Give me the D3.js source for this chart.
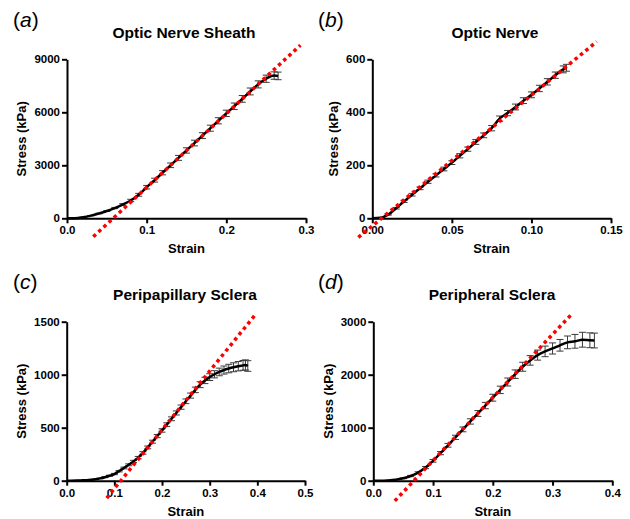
<!DOCTYPE html>
<html><head><meta charset="utf-8">
<script src="https://cdn.jsdelivr.net/npm/d3@7"></script>
<style>body{margin:0;background:#fff}svg{display:block}</style>
</head><body>
<svg id="chart" width="630" height="519"></svg>
<script>
// ---------------- data ----------------
const panelLabels = ["a", "b", "c", "d"];
const panelTitles = ["Optic Nerve Sheath", "Optic Nerve", "Peripapillary Sclera", "Peripheral Sclera"];
const xAxisTitle = "Strain";
const yAxisTitle = "Stress (kPa)";

const xDomains = [[0, 0.3], [0, 0.15], [0, 0.5], [0, 0.4]];
const yDomains = [[0, 9000], [0, 600], [0, 1500], [0, 3000]];
const xTicks = [[0, 0.1, 0.2, 0.3], [0, 0.05, 0.10, 0.15], [0, 0.1, 0.2, 0.3, 0.4, 0.5], [0, 0.1, 0.2, 0.3, 0.4]];
const yTicks = [[0, 3000, 6000, 9000], [0, 200, 400, 600], [0, 500, 1000, 1500], [0, 1000, 2000, 3000]];
const xTickFormats = [".1f", ".2f", ".1f", ".1f"];

// panel (a) Optic Nerve Sheath
const strainA = [0, 0.01, 0.02, 0.03, 0.04, 0.05, 0.06, 0.07, 0.08, 0.09, 0.10, 0.11, 0.12, 0.13, 0.14, 0.15, 0.16, 0.17, 0.18, 0.19, 0.20, 0.21, 0.22, 0.23, 0.24, 0.25, 0.26, 0.265];
const stressA = [0, 5, 60, 150, 270, 410, 580, 780, 1010, 1330, 1760, 2160, 2580, 3000, 3420, 3840, 4260, 4680, 5100, 5520, 5940, 6340, 6760, 7180, 7580, 7900, 8080, 8060];
const errA    = [0, 0, 5, 10, 15, 25, 35, 50, 65, 80, 100, 110, 120, 130, 140, 150, 160, 165, 170, 175, 180, 185, 190, 195, 200, 205, 210, 215];

// panel (b) Optic Nerve
const strainB = [0, 0.005, 0.01, 0.015, 0.02, 0.025, 0.03, 0.035, 0.04, 0.045, 0.05, 0.055, 0.06, 0.065, 0.07, 0.075, 0.08, 0.085, 0.09, 0.095, 0.10, 0.105, 0.11, 0.115, 0.12, 0.122];
const stressB = [0, 2, 14, 38, 64, 89, 113, 138, 162, 186, 210, 236, 261, 288, 313, 340, 376, 397, 420, 444, 466, 490, 515, 540, 562, 568];
const errB    = [0, 1, 2, 3, 4, 5, 5, 6, 6, 7, 7, 8, 8, 9, 9, 10, 10, 10, 11, 11, 11, 12, 12, 12, 13, 13];

// panel (c) Peripapillary Sclera
const strainC = [0, 0.01, 0.02, 0.03, 0.04, 0.05, 0.06, 0.07, 0.08, 0.09, 0.10, 0.11, 0.12, 0.13, 0.14, 0.15, 0.16, 0.17, 0.18, 0.19, 0.20, 0.21, 0.22, 0.23, 0.24, 0.25, 0.26, 0.27, 0.28, 0.29, 0.30, 0.31, 0.32, 0.33, 0.34, 0.35, 0.36, 0.37, 0.375, 0.38];
const stressC = [0, 0, 1, 3, 5, 8, 14, 22, 33, 47, 63, 90, 120, 150, 182, 218, 262, 314, 368, 421, 474, 529, 584, 639, 694, 749, 803, 857, 906, 946, 977, 1004, 1026, 1044, 1058, 1070, 1080, 1088, 1092, 1082];
const errC    = [0, 0, 0, 1, 1, 2, 2, 3, 4, 5, 6, 7, 8, 9, 10, 11, 12, 13, 14, 15, 16, 17, 18, 19, 20, 22, 24, 26, 28, 30, 32, 34, 36, 38, 40, 42, 44, 46, 48, 50];

// panel (d) Peripheral Sclera
const strainD = [0, 0.0125, 0.025, 0.0375, 0.05, 0.0625, 0.075, 0.0875, 0.1, 0.1125, 0.125, 0.1375, 0.15, 0.1625, 0.175, 0.1875, 0.2, 0.2125, 0.225, 0.2375, 0.25, 0.2625, 0.275, 0.2875, 0.3, 0.3125, 0.325, 0.3375, 0.35, 0.3625, 0.37];
const stressD = [0, 0, 5, 18, 45, 88, 152, 248, 375, 520, 668, 818, 968, 1118, 1268, 1418, 1566, 1714, 1862, 2010, 2150, 2270, 2370, 2440, 2495, 2555, 2610, 2630, 2660, 2650, 2645];
const errD    = [0, 0, 3, 5, 8, 12, 16, 20, 25, 30, 35, 40, 45, 50, 55, 60, 65, 70, 75, 80, 85, 90, 95, 100, 105, 110, 120, 130, 140, 140, 140];

// linear fits (red dotted): slope (kPa per unit strain), x-intercept, drawn strain extent
const fitSlopes = [41700, 4930, 5550, 11900];
const fitX0s = [0.058, 0.0058, 0.1136, 0.068];
const fitExtents = [[0.033, 0.293], [-0.0088, 0.141], [0.084, 0.395], [0.036, 0.331]];

const strains = [strainA, strainB, strainC, strainD];
const stresses = [stressA, stressB, stressC, stressD];
const errs = [errA, errB, errC, errD];

// ---------------- layout ----------------
const plotBoxes = [
  {x0: 67, x1: 306, y0: 218.3, y1: 59.3, lx: 13, ly: 27},
  {x0: 372.3, x1: 611, y0: 218.3, y1: 59.3, lx: 318, ly: 27},
  {x0: 66.7, x1: 305, y0: 480.7, y1: 321.7, lx: 13, ly: 289},
  {x0: 373.3, x1: 612.3, y0: 480.7, y1: 321.7, lx: 318, ly: 289}
];
const titleX = [184, 495, 185, 492];
const yLabelX = [26, 338, 26, 333];
const FONT = "'Liberation Sans', Arial, sans-serif";

const svg = d3.select("#chart");

panelLabels.forEach((lab, i) => {
  const b = plotBoxes[i];
  const x = d3.scaleLinear().domain(xDomains[i]).range([b.x0, b.x1]);
  const y = d3.scaleLinear().domain(yDomains[i]).range([b.y0, b.y1]);
  const g = svg.append("g");

  // panel label
  const t = g.append("text").attr("x", b.lx).attr("y", b.ly)
    .attr("font-family", FONT).attr("font-size", 21).attr("fill", "#000");
  t.append("tspan").text("(");
  t.append("tspan").attr("font-style", "italic").text(lab);
  t.append("tspan").text(")");

  // title
  g.append("text").attr("x", titleX[i]).attr("y", b.y1 - 21.6)
    .attr("text-anchor", "middle").attr("font-family", FONT)
    .attr("font-weight", "bold").attr("font-size", 15.5).text(panelTitles[i]);

  // axes
  const xAxis = d3.axisBottom(x).tickValues(xTicks[i]).tickFormat(d3.format(xTickFormats[i]))
    .tickSize(5).tickSizeOuter(0);
  const yAxis = d3.axisLeft(y).tickValues(yTicks[i]).tickFormat(d3.format("d"))
    .tickSize(5).tickSizeOuter(0);
  const gx = g.append("g").attr("transform", `translate(0,${b.y0})`).call(xAxis);
  const gy = g.append("g").attr("transform", `translate(${b.x0},0)`).call(yAxis);
  [gx, gy].forEach(ax => {
    ax.select(".domain").attr("stroke", "#000").attr("stroke-width", 2);
    ax.selectAll(".tick line").attr("stroke", "#000").attr("stroke-width", 2);
    ax.selectAll(".tick text").attr("font-family", FONT).attr("font-weight", "bold")
      .attr("font-size", 11.5).attr("fill", "#000");
  });
  gx.selectAll(".tick text").attr("dy", "0.71em").attr("y", 8);
  gy.selectAll(".tick text").attr("x", -7);

  // axis titles
  g.append("text").attr("x", (b.x0 + b.x1) / 2).attr("y", b.y0 + 35)
    .attr("text-anchor", "middle").attr("font-family", FONT).attr("font-weight", "bold")
    .attr("font-size", 13).text(xAxisTitle);
  g.append("text").attr("transform", `translate(${yLabelX[i]},${(b.y0 + b.y1) / 2}) rotate(-90)`)
    .attr("text-anchor", "middle").attr("font-family", FONT).attr("font-weight", "bold")
    .attr("font-size", 13).text(yAxisTitle);

  const pts = strains[i].map((s, k) => ({s, v: stresses[i][k], e: errs[i][k]}));

  // error bars
  const eb = g.append("g").attr("stroke", "#3a3a3a").attr("stroke-width", 1).attr("fill", "none");
  pts.filter(p => p.e > 0 && p.s > 0).forEach(p => {
    const cx = x(p.s), yt = y(p.v + p.e), yb = y(p.v - p.e);
    eb.append("line").attr("x1", cx).attr("x2", cx).attr("y1", yt).attr("y2", yb);
    eb.append("line").attr("x1", cx - 3.5).attr("x2", cx + 3.5).attr("y1", yt).attr("y2", yt);
    eb.append("line").attr("x1", cx - 3.5).attr("x2", cx + 3.5).attr("y1", yb).attr("y2", yb);
  });

  // mean curve
  g.append("path").datum(pts)
    .attr("d", d3.line().x(p => x(p.s)).y(p => y(p.v)).curve(d3.curveMonotoneX))
    .attr("fill", "none").attr("stroke", "#000").attr("stroke-width", 2.5);

  // linear fit
  const fit = fitExtents[i].map(s => ({s, v: fitSlopes[i] * (s - fitX0s[i])}));
  g.append("path").datum(fit)
    .attr("d", d3.line().x(p => x(p.s)).y(p => y(p.v)))
    .attr("fill", "none").attr("stroke", "#ff0000").attr("stroke-width", 3.5)
    .attr("stroke-dasharray", "3.5,3.5");
});
</script>
</body></html>
